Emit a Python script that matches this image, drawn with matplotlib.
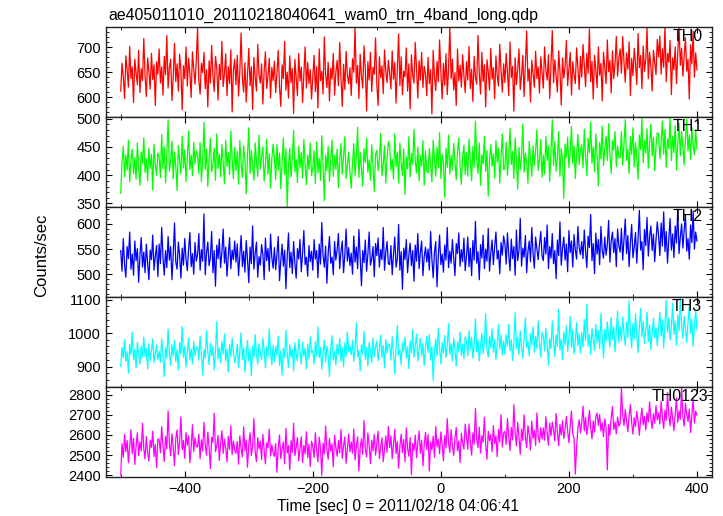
import numpy as np
import matplotlib
matplotlib.use("Agg")
import matplotlib.pyplot as plt
from matplotlib.ticker import MultipleLocator

plt.rcParams['font.family'] = ['Liberation Sans', 'DejaVu Sans']

title = "ae405011010_20110218040641_wam0_trn_4band_long.qdp"
xlabel = "Time [sec] 0 = 2011/02/18 04:06:41"
ylabel = "Counts/sec"
band_names = ["TH0", "TH1", "TH2", "TH3", "TH0123"]
band_colors = ["#ff0000", "#00ff00", "#0000ff", "#00ffff", "#ff00ff"]

t_start = -500
t_step = 2

th0 = [
    612, 668, 641, 597, 683, 654, 620, 702, 637, 661, 589, 676, 648, 625, 694, 609, 657, 633, 718, 642, 601, 679, 652, 616, 688, 635, 665, 583, 671, 646,
    697, 628, 661, 604, 682, 645, 724, 618, 659, 676, 593, 640, 708, 631, 667, 612, 686, 653, 574, 663, 637, 701, 622, 678, 648, 599, 691, 657, 626, 672,
    739, 634, 606, 668, 649, 690, 617, 655, 580, 673, 628, 704, 643, 611, 682, 659, 594, 666, 635, 712, 621, 648, 687, 603, 661, 627, 695, 570, 654, 676,
    625, 684, 602, 651, 729, 637, 610, 669, 590, 646, 698, 623, 661, 575, 680, 639, 612, 706, 644, 628, 667, 586, 653, 691, 617, 642, 678, 598, 660, 633,
    672, 609, 648, 694, 621, 581, 665, 637, 712, 614, 650, 598, 683, 629, 657, 567, 676, 641, 603, 688, 632, 660, 589, 647, 701, 618, 670, 627, 655, 596,
    640, 684, 611, 661, 578, 697, 633, 652, 606, 721, 645, 619, 670, 592, 658, 636, 688, 604, 649, 674, 623, 710, 639, 581, 666, 615, 692, 644, 627, 659,
    603, 677, 650, 741, 628, 664, 597, 686, 642, 618, 703, 655, 572, 671, 634, 690, 611, 660, 646, 719, 625, 583, 681, 639, 663, 607, 695, 652, 629, 674,
    648, 616, 693, 636, 670, 588, 659, 727, 623, 681, 605, 652, 641, 699, 612, 667, 576, 685, 644, 628, 710, 657, 598, 673, 634, 690, 619, 662, 646, 603,
    680, 627, 655, 566, 694, 642, 613, 672, 631, 715, 651, 596, 668, 624, 687, 605, 658, 741, 637, 676, 614, 649, 583, 697, 632, 664, 620, 685, 643, 609,
    671, 634, 702, 617, 656, 591, 682, 640, 626, 724, 648, 606, 690, 631, 665, 580, 675, 651, 614, 698, 636, 659, 597, 683, 644, 622, 706, 653, 610, 667,
    629, 688, 650, 603, 711, 639, 662, 572, 679, 625, 654, 697, 615, 643, 684, 601, 668, 733, 632, 657, 590, 674, 646, 620, 692, 637, 661, 608, 681, 649,
    618, 701, 655, 634, 685, 597, 666, 734, 629, 675, 642, 610, 693, 651, 584, 679, 638, 662, 714, 623, 657, 690, 604, 671, 645, 627, 699, 660, 615, 682,
    640, 706, 663, 621, 688, 648, 737, 631, 672, 596, 684, 655, 619, 701, 644, 668, 592, 690, 658, 627, 715, 651, 674, 608, 693, 637, 666, 722, 642, 679,
    697, 648, 722, 671, 630, 689, 656, 711, 603, 678, 643, 698, 667, 625, 728, 659, 684, 617, 703, 652, 675, 739, 637, 690, 662, 612, 694, 669, 645, 716,
    681, 723, 646, 697, 660, 742, 631, 688, 670, 714, 605, 679, 655, 701, 627, 690, 741, 664, 698, 642, 683, 719, 652, 676, 596, 705, 667, 733, 640, 689,
    655,
]

th1 = [
    368, 425, 451, 397, 436, 409, 462, 388, 427, 446, 403, 431, 393, 457, 414, 382, 441, 421, 466, 405, 429, 390, 448, 412, 437, 374, 455, 419, 400, 439,
    433, 396, 472, 411, 450, 386, 437, 498, 407, 425, 460, 394, 441, 416, 373, 453, 424, 402, 469, 413, 445, 389, 431, 478, 410, 436, 399, 458, 420, 443,
    436, 403, 458, 389, 427, 493, 410, 446, 380, 431, 465, 406, 418, 448, 391, 473, 412, 437, 397, 454, 423, 385, 462, 415, 440, 401, 478, 428, 394, 450,
    408, 442, 384, 461, 421, 396, 452, 427, 367, 437, 484, 403, 444, 416, 391, 457, 425, 398, 471, 411, 433, 450, 389, 418, 464, 402, 438, 377, 429, 455,
    431, 392, 454, 409, 439, 376, 422, 466, 401, 447, 343, 417, 448, 397, 430, 479, 406, 428, 387, 451, 414, 440, 395, 463, 420, 383, 436, 410, 457, 399,
    413, 443, 385, 459, 404, 430, 391, 470, 419, 355, 436, 408, 451, 389, 424, 462, 398, 435, 410, 446, 378, 427, 456, 402, 433, 468, 394, 418, 441, 405,
    377, 421, 456, 400, 434, 485, 396, 440, 412, 381, 447, 423, 465, 405, 427, 391, 454, 416, 371, 437, 444, 408, 429, 474, 399, 420, 452, 386, 431, 460,
    452, 409, 428, 393, 473, 415, 441, 386, 457, 422, 400, 446, 366, 432, 411, 468, 397, 439, 419, 481, 426, 404, 450, 390, 435, 416, 461, 382, 443, 407,
    404, 447, 417, 388, 462, 428, 398, 450, 413, 475, 394, 437, 422, 361, 448, 414, 471, 402, 435, 409, 456, 425, 392, 441, 466, 419, 384, 433, 453, 401,
    440, 398, 464, 424, 390, 451, 414, 496, 429, 403, 457, 382, 436, 420, 469, 407, 444, 363, 427, 454, 416, 438, 395, 461, 423, 448, 386, 432, 473, 410,
    411, 458, 400, 435, 483, 419, 442, 394, 466, 427, 375, 449, 410, 433, 491, 405, 439, 422, 386, 460, 430, 398, 452, 417, 444, 480, 408, 428, 463, 396,
    436, 402, 469, 426, 451, 389, 443, 498, 417, 460, 407, 432, 477, 398, 447, 428, 359, 455, 431, 467, 413, 440, 486, 421, 452, 394, 438, 472, 419, 445,
    454, 413, 481, 434, 399, 465, 440, 494, 421, 450, 406, 473, 435, 381, 458, 429, 487, 417, 446, 469, 426, 491, 438, 403, 462, 444, 477, 415, 452, 431,
    431, 477, 418, 455, 498, 426, 446, 403, 468, 437, 484, 415, 458, 430, 393, 471, 445, 500, 422, 462, 439, 482, 412, 456, 490, 434, 467, 408, 451, 475,
    473, 429, 458, 496, 437, 481, 414, 464, 447, 501, 426, 469, 440, 488, 409, 455, 492, 434, 477, 450, 418, 465, 499, 443, 471, 428, 485, 452, 436, 480,
    446,
]

th2 = [
    547, 506, 571, 518, 494, 555, 531, 584, 510, 540, 498, 566, 527, 551, 484, 537, 573, 514, 544, 503, 560, 522, 489, 548, 529, 578, 508, 535, 557, 495,
    560, 521, 593, 533, 498, 547, 513, 575, 528, 555, 489, 540, 602, 524, 510, 564, 537, 492, 552, 518, 571, 530, 507, 549, 583, 515, 541, 500, 563, 526,
    539, 581, 508, 549, 526, 620, 499, 542, 564, 517, 532, 585, 503, 547, 476, 558, 531, 570, 513, 543, 590, 522, 554, 496, 537, 573, 511, 548, 529, 566,
    524, 560, 497, 538, 577, 515, 546, 504, 567, 530, 483, 554, 521, 596, 510, 541, 564, 494, 535, 518, 559, 540, 489, 572, 527, 551, 506, 580, 533, 512,
    553, 509, 539, 575, 487, 527, 560, 516, 548, 471, 536, 582, 513, 544, 501, 565, 523, 492, 551, 530, 569, 505, 541, 587, 519, 534, 496, 557, 525, 546,
    508, 569, 530, 547, 493, 560, 520, 603, 537, 514, 556, 482, 542, 575, 522, 534, 499, 565, 528, 549, 581, 511, 545, 566, 503, 538, 590, 526, 553, 517,
    542, 500, 576, 524, 554, 511, 589, 533, 477, 547, 523, 568, 506, 540, 584, 518, 530, 555, 495, 561, 537, 572, 514, 549, 529, 593, 508, 544, 565, 521,
    519, 557, 499, 540, 574, 514, 531, 599, 508, 545, 470, 552, 529, 569, 503, 538, 562, 517, 547, 486, 558, 526, 581, 511, 543, 566, 497, 535, 554, 524,
    550, 508, 585, 530, 493, 544, 565, 475, 537, 578, 519, 540, 504, 558, 528, 593, 513, 546, 522, 569, 534, 497, 561, 541, 582, 516, 549, 525, 572, 507,
    536, 574, 515, 552, 497, 567, 528, 605, 522, 545, 489, 559, 532, 578, 511, 550, 526, 591, 506, 542, 568, 519, 555, 584, 530, 547, 501, 563, 538, 576,
    561, 520, 582, 539, 507, 570, 531, 555, 498, 588, 527, 547, 611, 516, 552, 534, 577, 503, 545, 566, 525, 593, 541, 512, 574, 550, 529, 560, 585, 536,
    527, 573, 540, 598, 511, 555, 532, 581, 521, 547, 491, 568, 537, 604, 518, 551, 574, 528, 560, 505, 587, 543, 566, 514, 579, 548, 530, 595, 553, 539,
    565, 531, 588, 546, 513, 576, 553, 619, 527, 561, 501, 582, 540, 569, 519, 595, 547, 532, 574, 538, 559, 607, 524, 566, 584, 543, 571, 515, 590, 556,
    544, 591, 528, 568, 610, 541, 577, 515, 562, 599, 533, 554, 583, 522, 572, 627, 548, 565, 509, 589, 557, 613, 536, 575, 596, 547, 580, 525, 569, 604,
    577, 537, 602, 556, 624, 545, 585, 522, 569, 611, 548, 580, 533, 596, 562, 629, 541, 574, 600, 552, 588, 619, 546, 571, 530, 598, 563, 626, 550, 584,
    566,
]

th3 = [
    901, 957, 926, 980, 915, 945, 881, 966, 936, 1002, 920, 951, 897, 973, 937, 908, 961, 928, 988, 930, 954, 893, 969, 918, 947, 983, 912, 940, 964, 921,
    946, 913, 983, 934, 870, 957, 926, 1011, 940, 904, 965, 931, 979, 915, 950, 890, 972, 937, 1020, 927, 961, 899, 944, 986, 920, 953, 908, 975, 933, 958,
    959, 919, 991, 936, 875, 952, 925, 1007, 945, 906, 970, 932, 962, 890, 947, 1034, 923, 956, 911, 975, 938, 998, 917, 951, 884, 966, 929, 985, 943, 912,
    932, 967, 898, 944, 1001, 922, 957, 883, 939, 978, 916, 950, 873, 962, 929, 995, 936, 907, 968, 943, 921, 984, 949, 896, 958, 931, 1012, 940, 905, 963,
    915, 961, 934, 990, 904, 947, 875, 955, 926, 1009, 937, 898, 964, 928, 951, 887, 970, 939, 917, 982, 945, 908, 973, 930, 956, 893, 967, 924, 988, 941,
    948, 908, 974, 931, 1018, 927, 957, 892, 943, 979, 914, 961, 935, 870, 952, 992, 920, 946, 905, 967, 938, 984, 916, 957, 899, 971, 929, 1003, 944, 962,
    935, 979, 915, 956, 1030, 929, 948, 887, 965, 938, 1005, 921, 957, 902, 972, 944, 913, 986, 930, 959, 976, 918, 949, 994, 927, 963, 896, 981, 940, 968,
    964, 919, 989, 940, 878, 955, 1023, 934, 950, 905, 971, 946, 988, 926, 959, 894, 977, 941, 1010, 928, 962, 997, 917, 952, 985, 932, 969, 903, 958, 990,
    942, 996, 920, 960, 859, 948, 982, 931, 1015, 954, 909, 971, 940, 993, 927, 962, 1028, 937, 969, 916, 985, 951, 902, 974, 946, 1003, 933, 966, 924, 989,
    976, 932, 1007, 951, 988, 925, 965, 1042, 944, 980, 917, 962, 999, 938, 972, 1058, 949, 929, 990, 956, 1012, 943, 981, 921, 968, 1026, 953, 994, 934, 977,
    937, 995, 961, 1026, 947, 980, 918, 969, 1061, 952, 988, 936, 1007, 959, 925, 984, 1045, 957, 975, 932, 998, 965, 1019, 943, 990, 954, 1036, 971, 928, 1003,
    991, 947, 1014, 967, 904, 984, 953, 1036, 972, 930, 995, 960, 1071, 949, 981, 920, 1004, 965, 1022, 945, 987, 1049, 958, 1010, 938, 976, 1031, 962, 999, 941,
    1002, 959, 1040, 978, 1087, 961, 996, 936, 1015, 983, 949, 1026, 970, 1008, 954, 1059, 987, 926, 1011, 975, 1033, 992, 958, 1047, 980, 1019, 944, 1004, 1066, 971,
    1020, 977, 1048, 999, 964, 1033, 987, 1096, 1006, 956, 1029, 983, 1057, 995, 942, 1018, 1073, 989, 1035, 969, 1011, 1062, 975, 1024, 951, 1000, 1044, 986, 1015, 962,
    1011, 1062, 991, 1040, 955, 1024, 1097, 1002, 1046, 979, 1019, 1088, 996, 1037, 963, 1055, 1007, 1104, 1028, 984, 1050, 1013, 972, 1033, 1081, 998, 1042, 960, 1021, 1069,
    1010,
]

th0123 = [
    2400, 2556, 2489, 2603, 2517, 2572, 2462, 2540, 2626, 2507, 2583, 2453, 2547, 2611, 2496, 2566, 2520, 2658, 2534, 2481, 2592, 2511, 2469, 2574, 2538, 2619, 2493, 2552, 2437, 2580,
    2577, 2511, 2641, 2547, 2468, 2594, 2530, 2719, 2558, 2496, 2606, 2539, 2447, 2583, 2625, 2502, 2567, 2690, 2526, 2573, 2483, 2612, 2549, 2595, 2462, 2537, 2651, 2518, 2586, 2543,
    2540, 2604, 2481, 2576, 2521, 2663, 2552, 2499, 2614, 2537, 2432, 2588, 2563, 2708, 2516, 2547, 2597, 2473, 2557, 2621, 2508, 2579, 2534, 2466, 2593, 2528, 2645, 2502, 2569, 2524,
    2508, 2567, 2454, 2595, 2533, 2491, 2640, 2520, 2575, 2439, 2554, 2611, 2498, 2542, 2681, 2514, 2467, 2586, 2530, 2569, 2477, 2603, 2522, 2456, 2561, 2536, 2628, 2495, 2551, 2512,
    2493, 2557, 2414, 2537, 2600, 2482, 2528, 2565, 2456, 2633, 2510, 2547, 2426, 2572, 2513, 2658, 2497, 2538, 2587, 2471, 2529, 2591, 2463, 2548, 2505, 2616, 2486, 2553, 2442, 2569,
    2544, 2488, 2611, 2522, 2466, 2589, 2534, 2399, 2560, 2505, 2645, 2528, 2479, 2583, 2520, 2555, 2442, 2599, 2538, 2494, 2572, 2511, 2627, 2483, 2546, 2590, 2459, 2532, 2604, 2516,
    2565, 2509, 2630, 2475, 2547, 2591, 2421, 2536, 2580, 2503, 2672, 2530, 2490, 2610, 2546, 2457, 2574, 2521, 2602, 2499, 2556, 2619, 2482, 2541, 2585, 2467, 2528, 2596, 2513, 2643,
    2537, 2596, 2482, 2551, 2628, 2507, 2568, 2434, 2542, 2604, 2513, 2577, 2467, 2635, 2532, 2494, 2587, 2402, 2558, 2523, 2599, 2486, 2561, 2620, 2509, 2574, 2445, 2550, 2613, 2528,
    2602, 2420, 2566, 2525, 2594, 2489, 2642, 2540, 2579, 2506, 2615, 2552, 2471, 2597, 2535, 2681, 2559, 2513, 2626, 2546, 2498, 2583, 2637, 2521, 2570, 2463, 2608, 2557, 2529, 2654,
    2589, 2528, 2655, 2568, 2499, 2611, 2554, 2732, 2580, 2536, 2639, 2509, 2596, 2564, 2688, 2548, 2479, 2619, 2572, 2603, 2517, 2646, 2557, 2595, 2492, 2628, 2566, 2701, 2540, 2611,
    2617, 2553, 2682, 2595, 2522, 2638, 2575, 2751, 2608, 2546, 2663, 2588, 2504, 2629, 2572, 2700, 2591, 2537, 2647, 2601, 2525, 2669, 2582, 2623, 2548, 2710, 2594, 2563, 2636, 2579,
    2634, 2574, 2691, 2612, 2549, 2659, 2595, 2664, 2626, 2570, 2707, 2614, 2546, 2652, 2599, 2671, 2582, 2629, 2693, 2620, 2561, 2648, 2719, 2603, 2587, 2405, 2538, 2633, 2676, 2610,
    2663, 2744, 2621, 2687, 2602, 2651, 2722, 2638, 2580, 2670, 2613, 2693, 2709, 2647, 2702, 2620, 2661, 2591, 2680, 2635, 2426, 2652, 2598, 2684, 2741, 2627, 2665, 2606, 2690, 2643,
    2656, 2831, 2700, 2647, 2727, 2673, 2616, 2693, 2752, 2660, 2604, 2686, 2641, 2717, 2668, 2599, 2678, 2734, 2650, 2692, 2625, 2711, 2664, 2765, 2683, 2632, 2705, 2658, 2746, 2676,
    2711, 2655, 2767, 2691, 2632, 2724, 2672, 2811, 2697, 2646, 2738, 2683, 2621, 2705, 2785, 2663, 2720, 2678, 2836, 2692, 2644, 2758, 2701, 2667, 2729, 2612, 2696, 2780, 2659, 2718,
    2700,
]

series = [th0, th1, th2, th3, th0123]
ylims = [(560, 741), (344, 503), (455, 634), (840, 1108), (2392, 2840)]
major_steps = [50, 50, 50, 100, 100]
minor_steps = [10, 10, 10, 20, 20]
label_right_px = [703, 703, 703, 702, 708]
xlim = (-523, 423)

W, H = 723, 516
fig = plt.figure(figsize=(W / 100, H / 100), dpi=100)
left_px, right_px = 106, 711.7
top_px, bottom_px = 27, 476.7
left, right = left_px / W, right_px / W
top, bottom = 1 - top_px / H, 1 - bottom_px / H
ph = (top - bottom) / 5

axes = []
for i, (vals, name, col) in enumerate(zip(series, band_names, band_colors)):
    ax = fig.add_axes([left, top - (i + 1) * ph, right - left, ph])
    t = t_start + t_step * np.arange(len(vals))
    ax.plot(t, vals, color=col, lw=0.9)
    ax.set_xlim(*xlim)
    ax.set_ylim(*ylims[i])
    ax.xaxis.set_major_locator(MultipleLocator(200))
    ax.xaxis.set_minor_locator(MultipleLocator(100))
    ax.yaxis.set_major_locator(MultipleLocator(major_steps[i]))
    ax.yaxis.set_minor_locator(MultipleLocator(minor_steps[i]))
    ax.tick_params(which='both', direction='in', top=True, right=True, labelsize=10.5, pad=3.5)
    ax.tick_params(which='major', length=4.5, width=0.8)
    ax.tick_params(which='minor', length=2.5, width=0.6)
    for sp in ax.spines.values():
        sp.set_linewidth(1.0)
        sp.set_color('#222222')
    lx = (label_right_px[i] - left_px) / (right_px - left_px)
    ax.text(lx, 0.975, name, transform=ax.transAxes, ha='right', va='top', fontsize=11.5)
    if i < 4:
        ax.tick_params(labelbottom=False)
    axes.append(ax)

fig.text(397.5 / W, 1 - 511.5 / H, xlabel, ha='center', va='baseline', fontsize=11.2)
fig.text(42 / W, 1 - 255 / H, ylabel, rotation=90, ha='center', va='center', fontsize=12.0)
fig.text(108.5 / W, 1 - 20 / H, title, ha='left', va='baseline', fontsize=11.4)

fig.savefig("out.png", dpi=100)
